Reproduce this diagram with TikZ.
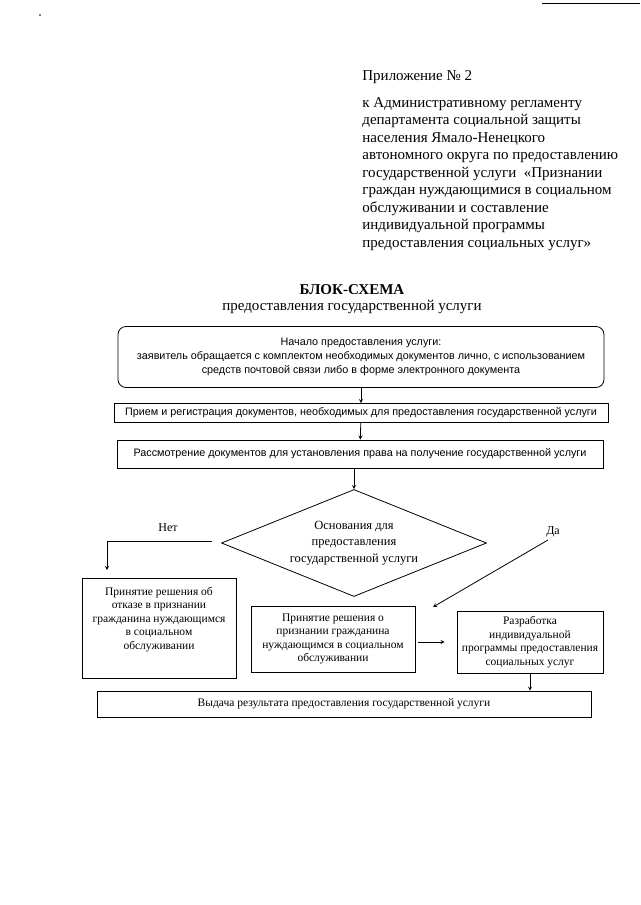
\documentclass[tikz,border=0pt]{standalone}
\usepackage{fontspec}
\setmainfont{Liberation Serif}
\newfontfamily\arialfont{Liberation Sans}
\usetikzlibrary{shapes.geometric}

\tikzstyle{stage} = [align=center,draw=black,rectangle,text centered,inner sep=1pt,font=\fontsize{11.5}{13.5}\selectfont]
\tikzstyle{wide} = [stage,font=\arialfont\fontsize{10.8}{14}\selectfont]
\tikzstyle{fork} = [diamond,draw=black,align=center,inner sep=0pt,aspect=2.5,font=\fontsize{12.5}{16.5}\selectfont]

\begin{document}
\begin{tikzpicture}[x=1pt,y=-1pt,>=stealth,line width=0.8pt]
	\useasboundingbox[fill=white] (0,0) rectangle (640,905);
	% scan marks
	\fill (40,15) circle (0.8);
	\draw[line width=0.6pt] (542,3) -- (640,3);
	% header
	\node (appx) [anchor=west,inner sep=0pt,font=\fontsize{15}{17.5}\selectfont] at (362,77) {Приложение № 2};
	\node (regl) [anchor=north west,inner sep=0pt,align=left,font=\fontsize{15}{17.5}\selectfont] at (362,97) {к Административному регламенту\\департамента социальной защиты\\населения Ямало-Ненецкого\\автономного округа по предоставлению\\государственной услуги\ \ «Признании\\граждан нуждающимися в социальном\\обслуживании и составление\\индивидуальной программы\\предоставления социальных услуг»};
	\node (title) [inner sep=0pt,font=\bfseries\fontsize{15}{18}\selectfont] at (352,290) {БЛОК-СХЕМА};
	\node (subtitle) [inner sep=0pt,font=\fontsize{15}{18}\selectfont] at (352,307) {предоставления государственной услуги};
	% upper chain
	\node (start) [wide,rounded corners=8pt,minimum width=486pt,minimum height=61pt] at (361,357) {Начало предоставления услуги:\\заявитель обращается с комплектом необходимых документов лично, с использованием\\средств почтовой связи либо в форме электронного документа};
	\node (recv) [wide,minimum width=494pt,minimum height=19pt] at (361,413) {Прием и регистрация документов, необходимых для предоставления государственной услуги};
	\node (review) [wide,minimum width=486pt,minimum height=28pt] at (360,454) {Рассмотрение документов для установления права на получение государственной услуги};
	% decision
	\node (decide) [fork,minimum width=265pt,minimum height=107pt] at (354,543) {Основания для\\предоставления\\государственной услуги};
	\node (no) [font=\fontsize{12}{14}\selectfont] at (168,528) {Нет};
	\node (yes) [font=\fontsize{12}{14}\selectfont] at (553,532) {Да};
	\coordinate (noStart) at (212,541);
	\coordinate (noEnd) at (107,570);
	\coordinate (yesStart) at (548,540);
	\coordinate (yesEnd) at (433,607);
	% outcomes
	\node (reject) [stage,minimum width=154pt,minimum height=100pt,text depth=20pt] at (159,628) {Принятие решения об\\отказе в признании\\гражданина нуждающимся\\в социальном\\обслуживании};
	\node (accept) [stage,minimum width=164pt,minimum height=66pt] at (333,639) {Принятие решения о\\признании гражданина\\нуждающимся в социальном\\обслуживании};
	\node (plan) [stage,minimum width=146pt,minimum height=62pt] at (530,642) {Разработка\\индивидуальной\\программы предоставления\\социальных услуг};
	\node (issue) [stage,minimum width=494pt,minimum height=26pt] at (344,704) {Выдача результата предоставления государственной услуги};
	% connections
	\draw [->] (start.south -| recv.north) -- (recv.north);
	\draw [->] (recv) -- (review);
	\draw [->] (decide.north |- review.south) -- (decide.north);
	\draw [->] (noStart) -| (noEnd);
	\draw [->] (yesStart) -- (yesEnd);
	\draw [->] ([xshift=3pt]accept.east |- plan.west) -- ([xshift=-12pt]plan.west);
	\draw [->] (plan.south) -- (plan.south |- issue.north);
\end{tikzpicture}
\end{document}
